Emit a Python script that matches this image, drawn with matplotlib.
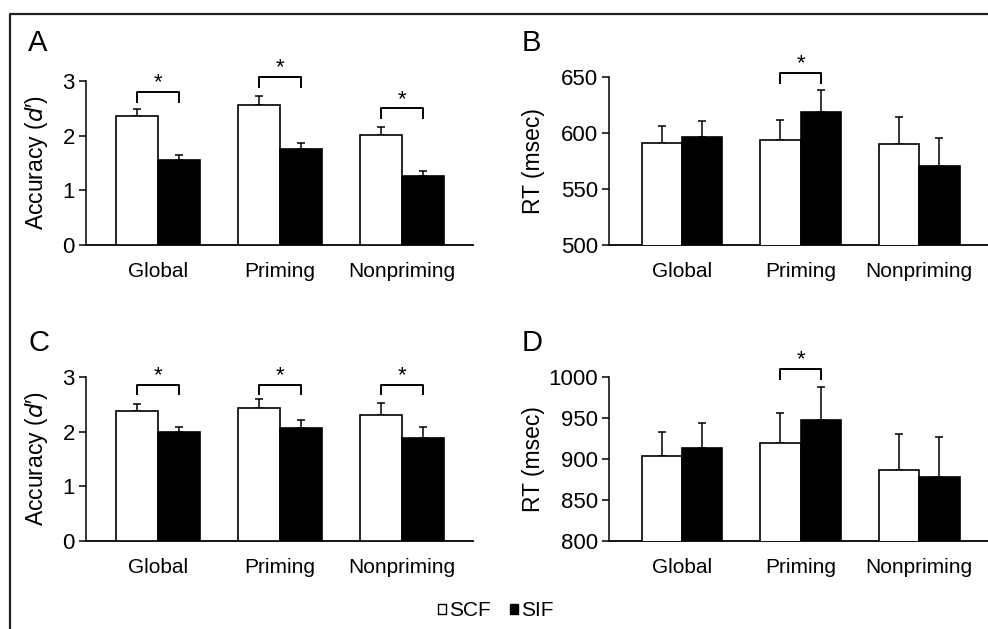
import numpy as np
import matplotlib
matplotlib.use("Agg")
import matplotlib.pyplot as plt
from matplotlib.lines import Line2D
from matplotlib.patches import Patch

plt.rcParams['font.family'] = ['Liberation Sans', 'DejaVu Sans']

# data
categories = ['Global', 'Priming', 'Nonpriming']

a_scf = [2.36, 2.57, 2.01]
a_scf_err = [0.12, 0.16, 0.14]
a_sif = [1.56, 1.75, 1.26]
a_sif_err = [0.09, 0.11, 0.09]

b_scf = [591.5, 593.5, 590.5]
b_scf_err = [14.5, 18.5, 23.5]
b_sif = [596.0, 619.0, 570.5]
b_sif_err = [15.0, 19.0, 25.0]

c_scf = [2.38, 2.43, 2.30]
c_scf_err = [0.13, 0.16, 0.23]
c_sif = [2.00, 2.07, 1.89]
c_sif_err = [0.09, 0.15, 0.19]

d_scf = [903.5, 919.0, 886.5]
d_scf_err = [29.0, 37.0, 44.5]
d_sif = [913.0, 947.0, 877.5]
d_sif_err = [31.0, 40.5, 49.5]

# significance brackets: (category index, bracket top)
a_sig = [(0, 2.80), (1, 3.07), (2, 2.50)]
b_sig = [(1, 654.0)]
c_sig = [(0, 2.86), (1, 2.86), (2, 2.86)]
d_sig = [(1, 1010.0)]

W, H = 988, 629
fig = plt.figure(figsize=(W / 100, H / 100), dpi=100)

def px_axes(left, right, top, bottom):
    return fig.add_axes([left / W, 1 - bottom / H, (right - left) / W, (bottom - top) / H])

FS = 15

def panel(ax, scf, scf_err, sif, sif_err, ylim, yticks, ylabel, sig, drop, xlim, bw, labx):
    x = np.arange(len(categories))
    ax.bar(x - bw / 2, scf, bw, color='white', edgecolor='black', linewidth=1.2, zorder=3)
    ax.bar(x + bw / 2, sif, bw, color='black', edgecolor='black', linewidth=1.2, zorder=3)
    ax.errorbar(x - bw / 2, scf, yerr=[np.zeros(3), scf_err], fmt='none', ecolor='black',
                elinewidth=1.1, capsize=3, capthick=1.1, zorder=2)
    ax.errorbar(x + bw / 2, sif, yerr=[np.zeros(3), sif_err], fmt='none', ecolor='black',
                elinewidth=1.1, capsize=3, capthick=1.1, zorder=2)
    ax.set_xlim(*xlim)
    ax.set_ylim(*ylim)
    ax.set_yticks(yticks)
    ax.set_xticks(x)
    ax.set_xticklabels(categories, fontsize=FS)
    ax.tick_params(axis='x', length=0, pad=12)
    ax.tick_params(axis='y', length=5, width=1.1, direction='out', labelsize=FS + 1, pad=3)
    for s in ['top', 'right']:
        ax.spines[s].set_visible(False)
    ax.spines['left'].set_linewidth(1.1)
    ax.spines['bottom'].set_linewidth(1.3)
    ax.set_ylabel(ylabel, fontsize=FS + 1.5)
    ax.yaxis.set_label_coords(labx, 0.5)
    for i, top in sig:
        x0, x1 = i - bw / 2, i + bw / 2
        ax.plot([x0, x0, x1, x1], [top - drop, top, top, top - drop], color='black',
                lw=1.4, clip_on=False, zorder=4)
        ax.annotate('*', xy=(i, top), xytext=(0, -1), textcoords='offset points',
                    ha='center', va='bottom', fontsize=16, annotation_clip=False)

axA = px_axes(86, 473, 81, 245)
panel(axA, a_scf, a_scf_err, a_sif, a_sif_err, (0, 3), [0, 1, 2, 3],
      "Accuracy ($d$\u2032)", a_sig, 0.18, (-0.59, 2.58), 0.344, -0.092)
axB = px_axes(609, 988, 77, 245)
panel(axB, b_scf, b_scf_err, b_sif, b_sif_err, (500, 650), [500, 550, 600, 650],
      "RT (msec)", b_sig, 9, (-0.616, 2.58), 0.34, -0.169)
axC = px_axes(86, 473, 377, 541)
panel(axC, c_scf, c_scf_err, c_sif, c_sif_err, (0, 3), [0, 1, 2, 3],
      "Accuracy ($d$\u2032)", c_sig, 0.17, (-0.59, 2.58), 0.344, -0.092)
axD = px_axes(609, 988, 377, 541)
panel(axD, d_scf, d_scf_err, d_sif, d_sif_err, (800, 1000), [800, 850, 900, 950, 1000],
      "RT (msec)", d_sig, 13, (-0.616, 2.58), 0.34, -0.169)

# panel letters
for lab, xp, yp in [('A', 28, 43), ('B', 522, 43), ('C', 28, 343), ('D', 522, 343)]:
    fig.text(xp / W, 1 - yp / H, lab, fontsize=21, ha='left', va='center')

# outer frame (left and top edges only)
fig.add_artist(Line2D([10 / W, 10 / W, 1], [0, 1 - 14 / H, 1 - 14 / H],
                      color='#231f20', lw=1.6, transform=fig.transFigure))

handles = [Patch(facecolor='white', edgecolor='black', lw=1),
           Patch(facecolor='black', edgecolor='black', lw=1)]
fig.legend(handles, ['SCF', 'SIF'], loc='center', bbox_to_anchor=(496 / W, 1 - 611 / H),
           ncol=2, frameon=False, fontsize=FS, handlelength=0.4, handleheight=0.4,
           handletextpad=0.15, columnspacing=0.9, borderpad=0)

fig.savefig('out.png', dpi=100)
